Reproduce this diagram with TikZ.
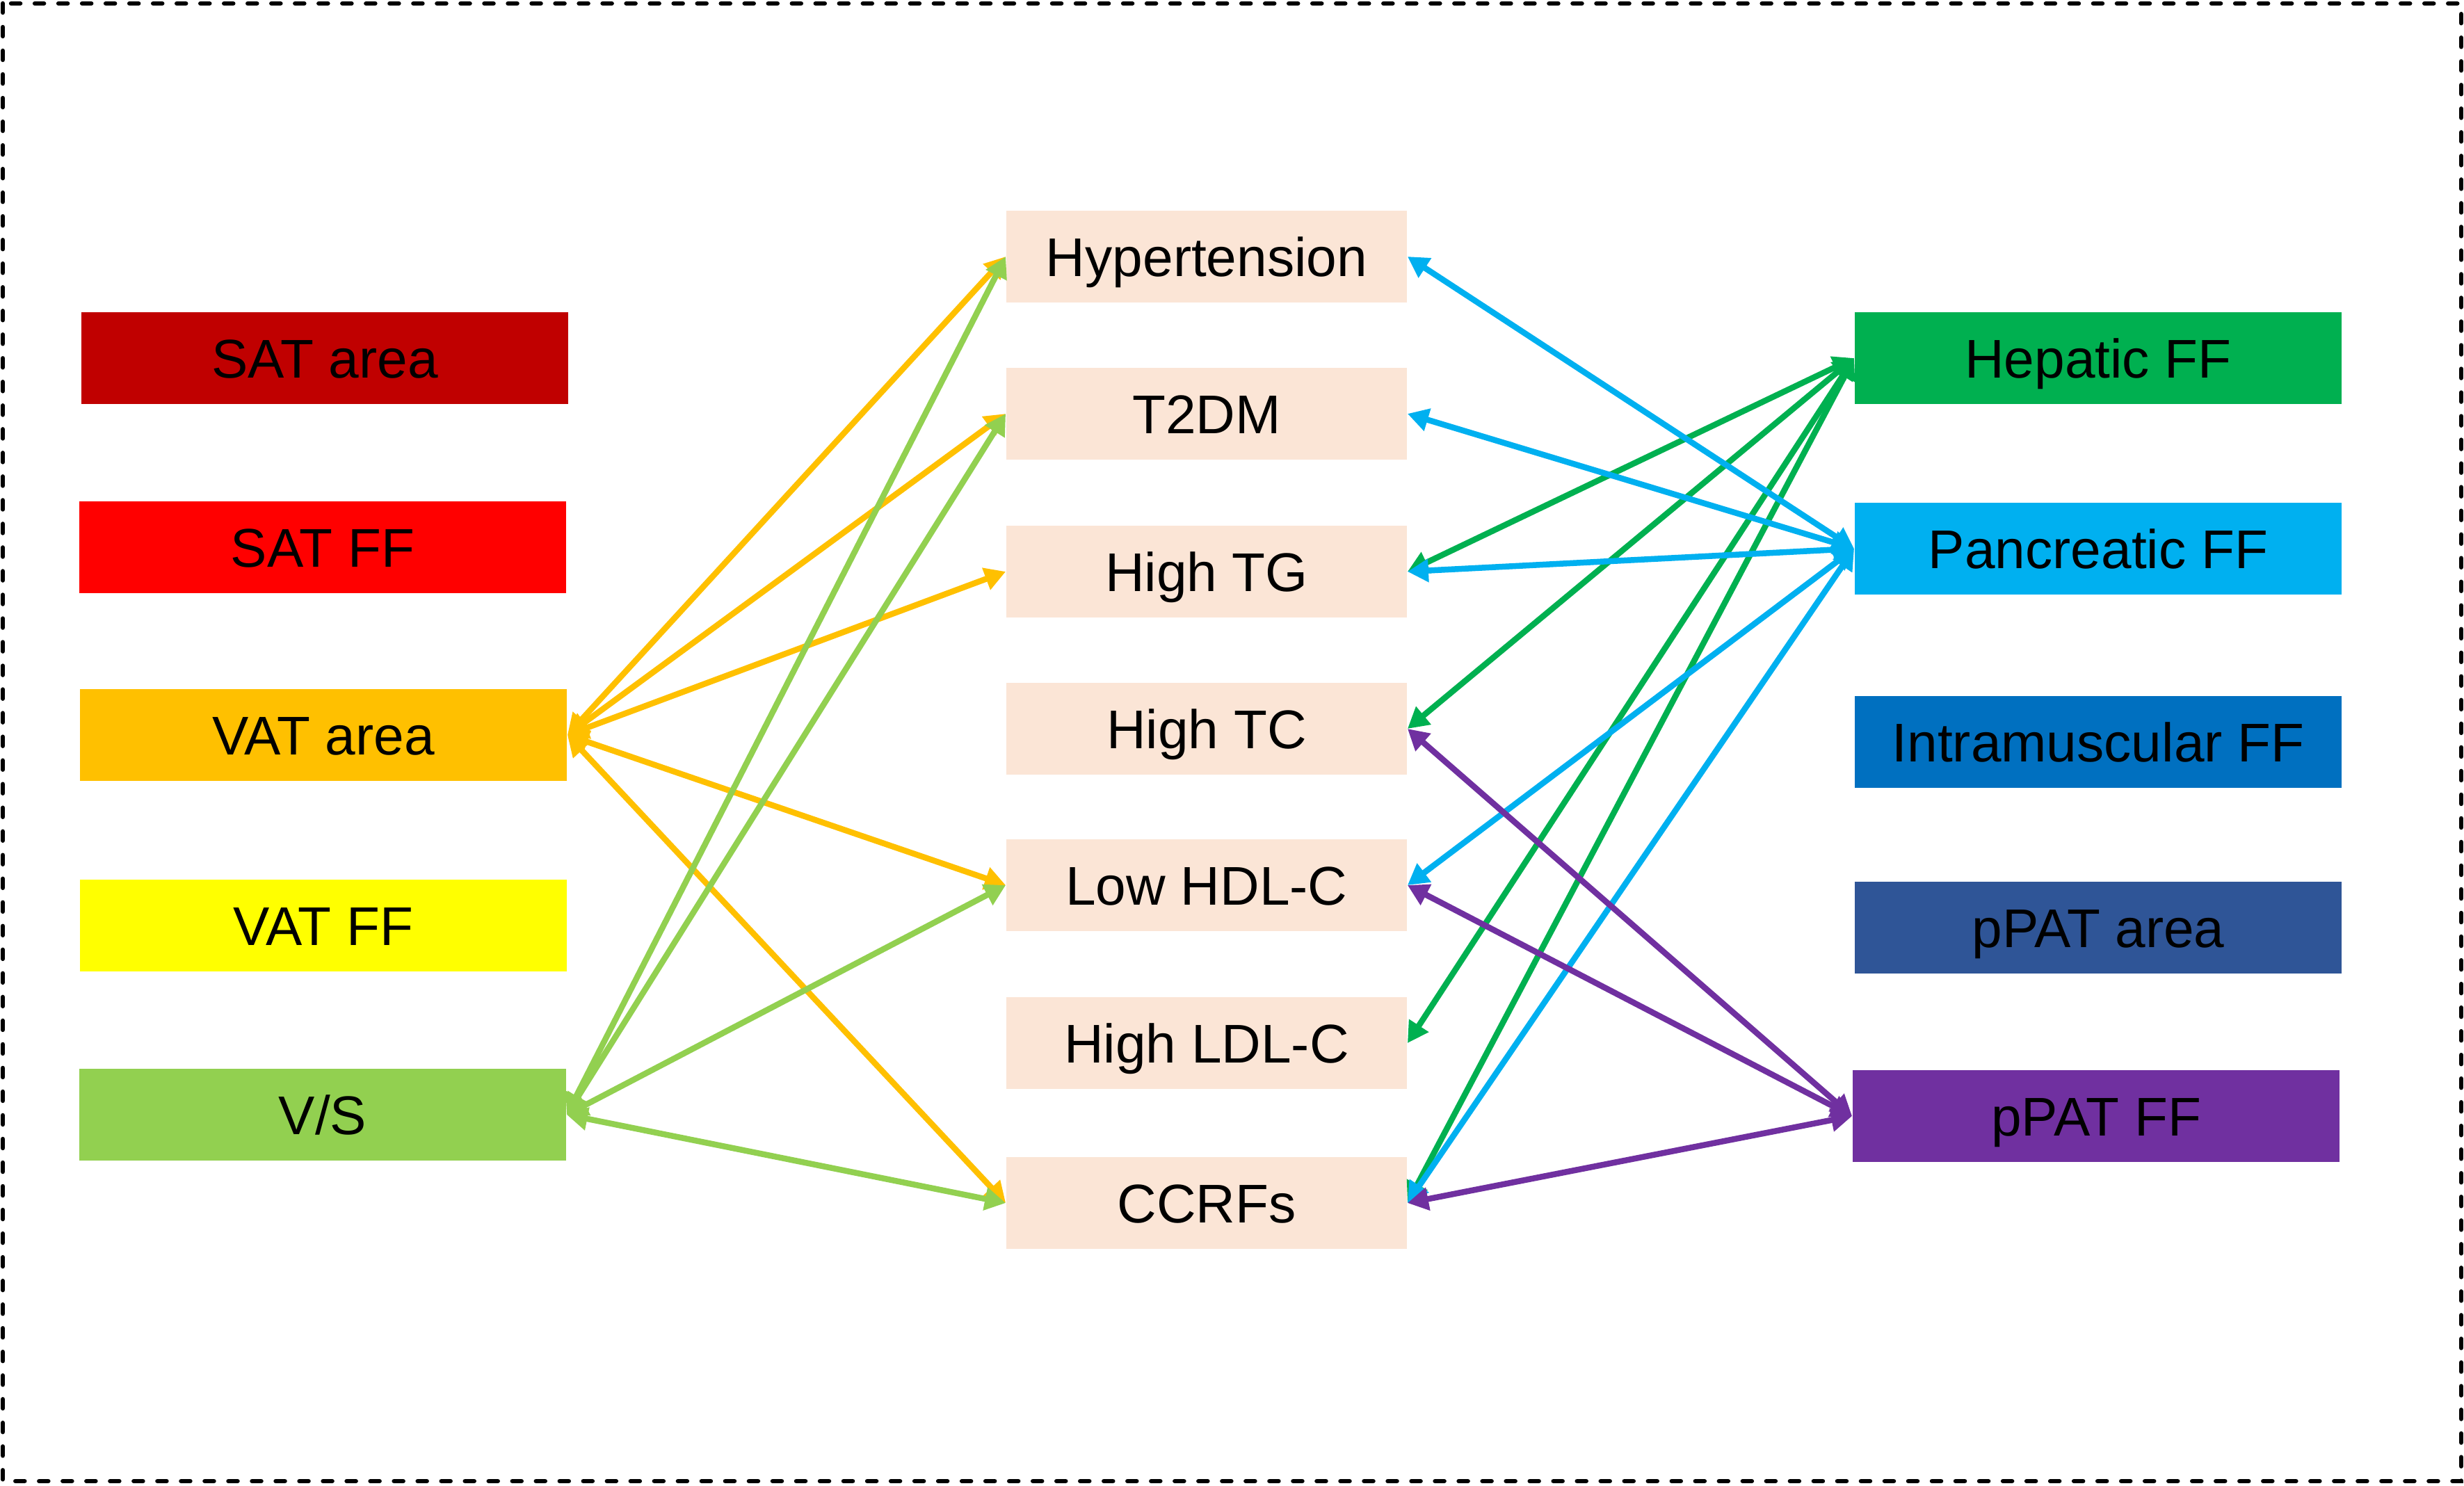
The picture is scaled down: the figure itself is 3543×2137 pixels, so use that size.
\documentclass[tikz,border=0pt]{standalone}
\usepackage{fontspec}
\setmainfont{Liberation Sans}
\usetikzlibrary{arrows.meta}
\definecolor{satarea}{HTML}{C00000}
\definecolor{satff}{HTML}{FF0000}
\definecolor{vatarea}{HTML}{FFC000}
\definecolor{vatff}{HTML}{FFFF00}
\definecolor{vs}{HTML}{92D050}
\definecolor{hep}{HTML}{00B050}
\definecolor{pan}{HTML}{00B0F0}
\definecolor{intra}{HTML}{0070C0}
\definecolor{ppatarea}{HTML}{2F5597}
\definecolor{ppatff}{HTML}{7030A0}
\definecolor{midfill}{HTML}{FBE5D6}
\begin{document}
\begin{tikzpicture}[x=0.01cm,y=-0.01cm,
  box/.style={minimum width=7cm, minimum height=1.31cm, inner sep=0pt,
    text height=16pt, text depth=0pt,
    font=\fontsize{22.3}{26}\selectfont, text=black},
  mid/.style={box, fill=midfill, minimum width=5.76cm, minimum height=1.31cm},
  link/.style={line width=0.085cm,
    {Triangle[length=0.3cm,width=0.32cm]}-{Triangle[length=0.3cm,width=0.32cm]}},
  frame/.style={draw=black, line width=0.065cm, line cap=round,
    dash pattern=on 0.13cm off 0.21cm}
]
\useasboundingbox (0,0) rectangle (3543,2137);
\draw[frame] (4,5) rectangle (3539,2130);

% left column
\node[box, fill=satarea] (sata) at (467,515) {SAT area};
\node[box, fill=satff] (satf) at (464,787) {SAT FF};
\node[box, fill=vatarea] (vata) at (465,1057) {VAT area};
\node[box, fill=vatff] (vatf) at (465,1331) {VAT FF};
\node[box, fill=vs] (vs) at (464,1603) {V/S};

% middle column
\node[mid] (hyp) at (1735,369) {Hypertension};
\node[mid] (t2dm) at (1735,595) {T2DM};
\node[mid] (tg) at (1735,822) {High TG};
\node[mid] (tc) at (1735,1048) {High TC};
\node[mid] (hdl) at (1735,1273) {Low HDL-C};
\node[mid] (ldl) at (1735,1500) {High LDL-C};
\node[mid] (ccrf) at (1735,1730) {CCRFs};

% right column
\node[box, fill=hep] (hepff) at (3017,515) {Hepatic FF};
\node[box, fill=pan] (panff) at (3017,789) {Pancreatic FF};
\node[box, fill=intra] (intff) at (3017,1067) {Intramuscular FF};
\node[box, fill=ppatarea] (ppata) at (3017,1334) {pPAT area};
\node[box, fill=ppatff] (ppatf) at (3014,1605) {pPAT FF};

% VAT area links
\foreach \t in {hyp,t2dm,tg,hdl,ccrf}
  \draw[link, draw=vatarea, fill=vatarea] (vata.east) -- (\t.west);
% V/S links
\foreach \t in {hyp,t2dm,hdl,ccrf}
  \draw[link, draw=vs, fill=vs] (vs.east) -- (\t.west);
% Hepatic FF links
\foreach \t in {tg,tc,ldl,ccrf}
  \draw[link, draw=hep, fill=hep] (hepff.west) -- (\t.east);
% Pancreatic FF links
\foreach \t in {hyp,t2dm,tg,hdl,ccrf}
  \draw[link, draw=pan, fill=pan] (panff.west) -- (\t.east);
% pPAT FF links
\foreach \t in {tc,hdl,ccrf}
  \draw[link, draw=ppatff, fill=ppatff] (ppatf.west) -- (\t.east);
\end{tikzpicture}
\end{document}
